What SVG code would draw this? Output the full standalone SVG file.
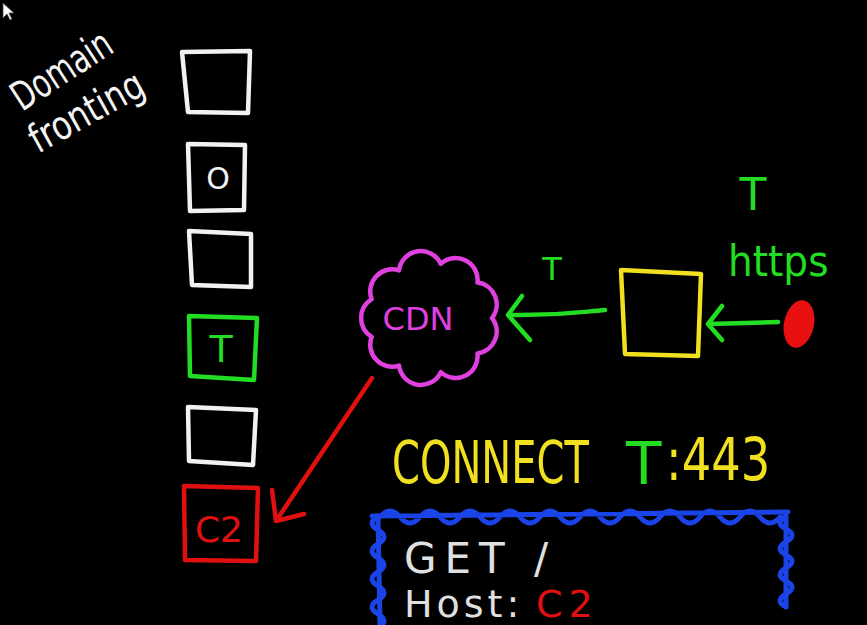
<svg xmlns="http://www.w3.org/2000/svg" width="867" height="625" viewBox="0 0 867 625">
<defs>
<style>
.box{fill:none;stroke-width:4.5;stroke-linejoin:round;stroke-linecap:round}
.w{stroke:#f2f2f2}
.hand{font-family:"DejaVu Sans","Liberation Sans",sans-serif}
.ln{fill:none;stroke-width:4.5;stroke-linecap:round;stroke-linejoin:round}
.blue{fill:none;stroke:#1a44e8;stroke-width:5;stroke-linecap:round;stroke-linejoin:round}
</style>
</defs>
<rect width="867" height="625" fill="#000"/>
<polygon points="3,3 3,18 7,14 10,20 12,19 9,13 14,13" fill="#fff" stroke="#444" stroke-width="0.8"/>

<g id="title" class="hand" fill="#f4f4f4">
<text transform="translate(22,112) rotate(-33) scale(0.72,1)" font-size="40">Domain</text>
<text transform="translate(38,154) rotate(-29) scale(0.8,1)" font-size="40">fronting</text>
</g>

<g id="box1"><path class="box w" d="M182,52 L250,51 L248,113 L188,112 Z"/></g>
<g id="box2"><path class="box w" d="M188,144 L245,145 L244,210 L190,211 Z"/>
<text x="218" y="189" class="hand" font-size="30" fill="#f2f2f2" text-anchor="middle">O</text></g>
<g id="box3"><path class="box w" d="M189,231 L251,234 L251,287 L192,285 Z"/></g>
<g id="boxT"><path class="box" stroke="#22dd22" d="M189,316 L257,318 L254,380 L190,376 Z"/>
<text x="221" y="362" class="hand" font-size="38" fill="#22dd22" text-anchor="middle">T</text></g>
<g id="box5"><path class="box w" d="M188,407 L256,410 L253,465 L189,461 Z"/></g>
<g id="boxC2"><path class="box" stroke="#e01010" d="M184,486 L258,488 L256,561 L185,560 Z"/>
<text x="219" y="542" class="hand" font-size="36" fill="#e01010" text-anchor="middle">C2</text></g>

<g id="cdn">
<path fill="none" stroke="#e040e0" stroke-width="4.5" stroke-linejoin="round" d="M492,318 A22,22 0 0 1 477.5,353.4 A22,22 0 0 1 440.8,372.2 A22,22 0 0 1 399,365.6 A22,22 0 0 1 371.7,336.8 A22,22 0 0 1 371.7,299.2 A22,22 0 0 1 399,270.4 A22,22 0 0 1 440.8,263.8 A22,22 0 0 1 477.5,282.6 A22,22 0 0 1 492,318 Z"/>
<text x="418" y="330" class="hand" font-size="32" fill="#e040e0" text-anchor="middle">CDN</text>
</g>

<g id="proxy"><path class="box" stroke="#f0e020" d="M621,270 L701,274 L698,356 L625,354 Z"/></g>

<g id="client"><ellipse cx="799" cy="324" rx="15" ry="24" transform="rotate(12 799 324)" fill="#e81010"/></g>

<g id="connectors">
<path class="ln" stroke="#22dd22" d="M605,310 C580,312 560,316 508,315 M522,296 L508,315 L530,340"/>
<path class="ln" stroke="#22dd22" d="M778,322 L708,324 M722,306 L708,324 L722,340"/>
<path class="ln" stroke="#e01010" d="M372,378 L276,521 M272,490 L276,521 L304,514"/>
</g>

<g id="labels" class="hand">
<text x="552" y="280" font-size="32" fill="#22dd22" text-anchor="middle">T</text>
<text x="753" y="210" font-size="44" fill="#22dd22" text-anchor="middle">T</text>
<text transform="translate(728,276) scale(0.93,1)" font-size="42" fill="#22dd22">https</text>
<text transform="translate(392,483) scale(0.69,1)" font-size="58" fill="#f0e020">CONNECT</text>
<text x="626" y="484" font-size="58" fill="#22dd22">T</text>
<text transform="translate(666,480) scale(0.8,1)" font-size="58" fill="#f0e020">:443</text>
</g>

<g id="request">
<path class="blue" d="M372,516 L788,512 M380,517 q10,-12 20,0 t20,0 t20,0 t20,0 t20,0 t20,0 t20,0 t20,0 t20,0 t20,0 t20,0 t20,0 t20,0 t20,0 t20,0 t20,0 t20,0 t20,0 t20,0 t20,0"/>
<path class="blue" d="M378,516 q-12,7 0,14 t0,14 t0,14 t0,14 t0,14 t0,14 t0,14 t0,14 M378,516 L380,625"/>
<path class="blue" d="M786,516 q-12,7 0,13 t0,13 t0,13 t0,13 t0,13 t0,13 t0,13 M786,516 L786,607"/>
<text x="404" y="573" class="hand" font-size="42" fill="#e0e0e0" letter-spacing="8">GET /</text>
<text x="404" y="617" class="hand" font-size="38" fill="#e0e0e0" letter-spacing="4">Host:</text>
<text x="536" y="617" class="hand" font-size="38" fill="#e01010" letter-spacing="6">C2</text>
</g>
</svg>
